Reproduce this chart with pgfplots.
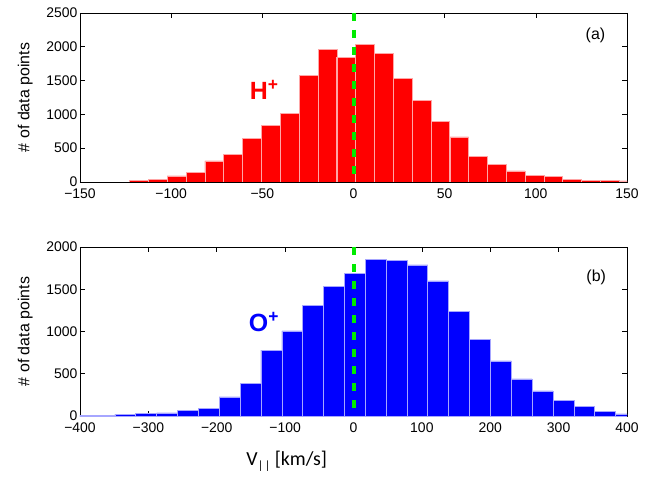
\documentclass[border=0pt]{standalone}
\usepackage{pgfplots}
\pgfplotsset{compat=1.18}
\usepackage{fontspec}
\setmainfont{Liberation Sans}
\newfontfamily\calibri{Carlito}
\definecolor{hred}{RGB}{255,0,0}
\definecolor{oblue}{RGB}{0,0,255}
\definecolor{vgreen}{RGB}{0,235,0}

\pgfplotsset{panel/.style={
  scale only axis, width=547bp, height=169bp,
  axis line style={line width=0.8bp},
  tick style={line width=0.6bp, black},
  tick align=inside, major tick length=5bp,
  tick label style={font=\fontsize{14}{14}\selectfont},
  xticklabel style={yshift=-3bp},
  yticklabel style={xshift=1bp},
  ylabel={\# of data points},
  ylabel style={font=\fontsize{16}{16}\selectfont, at={(axis description cs:-0.10,0.5)}, anchor=center},
}}

\begin{document}
\begin{tikzpicture}
\useasboundingbox (-80bp,-61bp) rectangle (574bp,416bp);

% (a) H+
\begin{axis}[panel, at={(0,234bp)},
  xmin=-150, xmax=150, ymin=0, ymax=2500,
  xtick={-150,-100,-50,0,50,100,150},
  xticklabels={−150,−100,−50,0,50,100,150},
  ytick={0,500,1000,1500,2000,2500},
  yticklabels={0,500,1000,1500,2000,2500}]
\addplot[ybar, bar width=10.33, bar shift=0pt, fill=hred, draw=hred!35!white, line width=0.6bp] coordinates {
(-117.6,25) (-107.3,40) (-97.0,89) (-86.6,138) (-76.3,311) (-66.0,404)
(-55.7,641) (-45.3,833) (-35.0,1011) (-24.7,1573) (-14.3,1963) (-4.0,1839)
(6.3,2032) (16.7,1908) (27.0,1534) (37.3,1208) (47.6,892) (58.0,666)
(68.3,375) (78.6,256) (89.0,163) (99.3,94) (109.6,79) (119.9,39)
(130.3,25) (140.6,25) (150.9,15)};
\addplot[vgreen, line width=4bp, dash pattern=on 8bp off 9bp] coordinates {(0,2500) (0,0)};
\node[text=hred, font=\fontsize{25}{25}\selectfont\bfseries] at (axis cs:-49,1361) {H\textsuperscript{+}};
\node[font=\fontsize{16}{16}\selectfont] at (axis cs:132.7,2175) {(a)};
\end{axis}

% (b) O+
\begin{axis}[panel, at={(0,0)},
  xmin=-400, xmax=400, ymin=0, ymax=2000,
  xtick={-400,-300,-200,-100,0,100,200,300,400},
  xticklabels={−400,−300,−200,−100,0,100,200,300,400},
  ytick={0,500,1000,1500,2000},
  yticklabels={0,500,1000,1500,2000},
  xlabel={{\calibri\fontsize{20}{20}\selectfont V\raisebox{-4bp}{\fontsize{12}{12}\selectfont|\kern1.5bp|}\ [km/s]}},
  xlabel style={at={(axis description cs:0.378,-0.27)}, anchor=center}]
\addplot[ybar, bar width=30.51, bar shift=0pt, fill=oblue, draw=oblue!35!white, line width=0.6bp] coordinates {
(-394.8,3) (-364.3,8) (-333.7,20) (-303.2,28) (-272.7,36) (-242.2,63)
(-211.7,87) (-181.2,225) (-150.7,383) (-120.1,781) (-89.6,1006) (-59.1,1310)
(-28.6,1538) (1.9,1684) (32.4,1854) (62.9,1838) (93.4,1787) (123.9,1598)
(154.5,1239) (185.0,911) (215.5,651) (246.0,438) (276.5,296) (307.0,189)
(337.5,110) (368.0,59) (398.6,24)};
\addplot[vgreen, line width=4bp, dash pattern=on 8bp off 9bp] coordinates {(0,2000) (0,0)};
\node[text=oblue, font=\fontsize{25}{25}\selectfont\bfseries] at (axis cs:-131,1112) {O\textsuperscript{+}};
\node[font=\fontsize{16}{16}\selectfont] at (axis cs:355,1645) {(b)};
\end{axis}
\end{tikzpicture}
\end{document}
